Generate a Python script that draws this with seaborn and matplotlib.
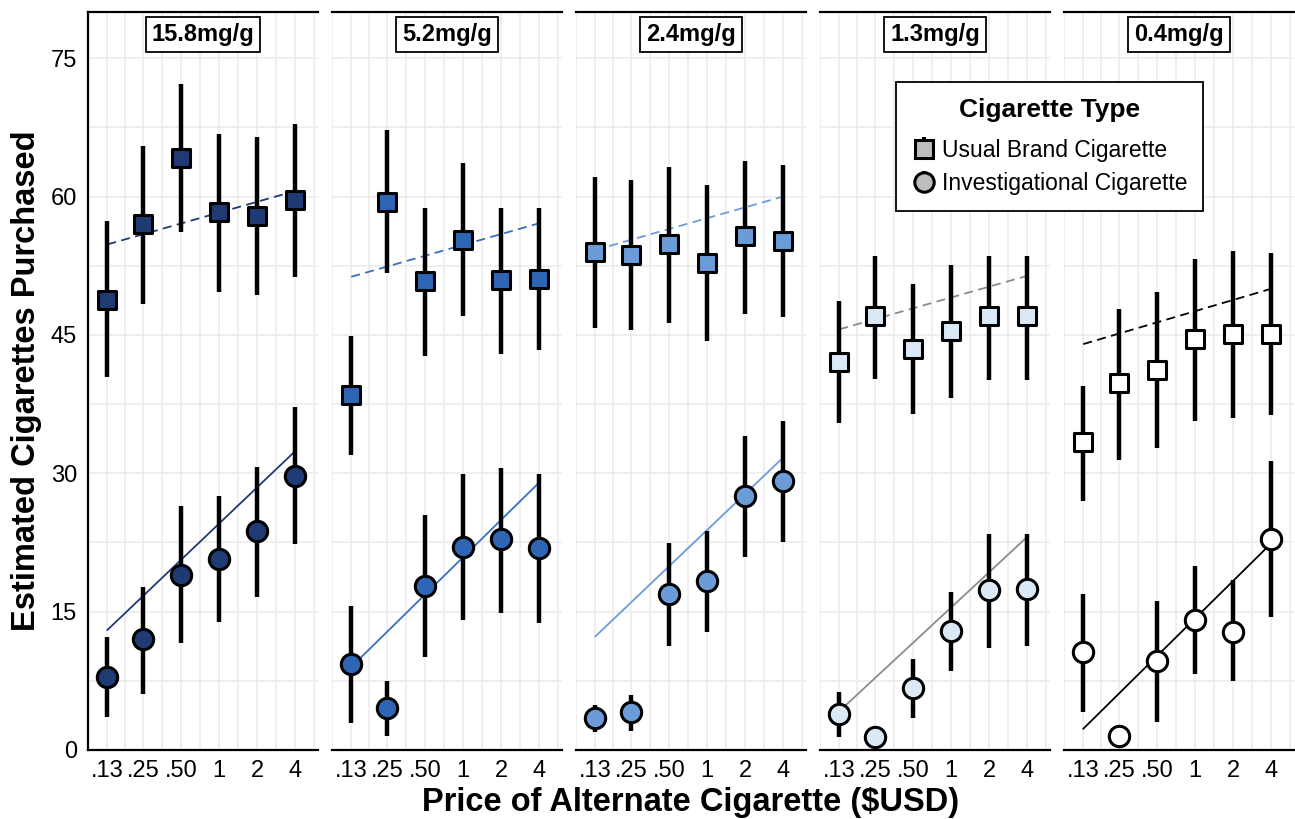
import numpy as np
import pandas as pd
import matplotlib.pyplot as plt
import seaborn as sns
from matplotlib.container import ErrorbarContainer
from matplotlib.lines import Line2D
from matplotlib.collections import LineCollection
from matplotlib.ticker import NullFormatter

# nicotine content panels and alternate cigarette prices
doses = ['15.8mg/g', '5.2mg/g', '2.4mg/g', '1.3mg/g', '0.4mg/g']
prices = [0.13, 0.25, 0.50, 1, 2, 4]
price_labels = ['.13', '.25', '.50', '1', '2', '4']

# usual brand cigarette (squares)
ubc_mean = [
    [48.8, 57.0, 64.2, 58.3, 57.9, 59.6],
    [38.5, 59.4, 50.8, 55.3, 50.9, 51.1],
    [54.0, 53.7, 54.8, 52.8, 55.7, 55.2],
    [42.1, 47.0, 43.5, 45.4, 47.0, 47.0],
    [33.4, 39.8, 41.2, 44.6, 45.1, 45.1],
]
ubc_lo = [
    [40.4, 48.4, 56.2, 49.7, 49.3, 51.3],
    [32.0, 51.7, 42.7, 47.0, 42.9, 43.4],
    [45.7, 45.5, 46.3, 44.3, 47.3, 46.9],
    [35.4, 40.2, 36.4, 38.2, 40.1, 40.1],
    [27.0, 31.4, 32.7, 35.7, 36.0, 36.3],
]
ubc_hi = [
    [57.3, 65.5, 72.2, 66.8, 66.5, 67.9],
    [44.9, 67.2, 58.7, 63.6, 58.8, 58.7],
    [62.1, 61.8, 63.2, 61.2, 63.9, 63.4],
    [48.7, 53.6, 50.5, 52.6, 53.6, 53.6],
    [39.5, 47.8, 49.6, 53.2, 54.1, 53.9],
]

# investigational cigarette (circles)
inv_mean = [
    [7.9, 12.0, 19.0, 20.7, 23.7, 29.7],
    [9.3, 4.5, 17.8, 22.0, 22.9, 21.9],
    [3.5, 4.1, 16.9, 18.3, 27.5, 29.2],
    [3.9, 1.4, 6.7, 12.9, 17.3, 17.5],
    [10.6, 1.5, 9.6, 14.1, 12.8, 22.9],
]
inv_lo = [
    [3.6, 6.1, 11.6, 13.9, 16.6, 22.3],
    [2.9, 1.5, 10.1, 14.1, 14.9, 13.8],
    [2.0, 2.1, 11.3, 12.8, 20.9, 22.6],
    [1.4, 1.4, 3.5, 8.6, 11.1, 11.3],
    [4.1, 1.5, 3.0, 8.2, 7.5, 14.4],
]
inv_hi = [
    [12.3, 17.7, 26.5, 27.5, 30.7, 37.2],
    [15.6, 7.5, 25.5, 29.9, 30.6, 29.9],
    [4.9, 6.0, 22.4, 23.7, 34.0, 35.7],
    [6.3, 1.4, 9.9, 17.1, 23.4, 23.4],
    [16.9, 1.5, 16.2, 19.9, 18.4, 31.3],
]

# fitted trend at the lowest and highest price
ubc_fit = [(54.8, 60.6), (51.3, 57.1), (54.2, 60.0), (45.6, 51.4), (44.0, 50.0)]
inv_fit = [(13.0, 32.4), (9.0, 29.0), (12.3, 31.7), (4.2, 23.1), (2.3, 22.4)]

fills = ['#1f3b73', '#2f65b5', '#6b9bd8', '#dbe9f7', '#ffffff']
line_cols = ['#1f3b73', '#3a6fc0', '#6b9bd8', '#8c8c8c', '#000000']

UBC = 'Usual Brand Cigarette'
INV = 'Investigational Cigarette'

rows = []
for i, d in enumerate(doses):
    for j, p in enumerate(prices):
        rows.append((d, p, UBC, ubc_mean[i][j], ubc_lo[i][j], ubc_hi[i][j]))
        rows.append((d, p, INV, inv_mean[i][j], inv_lo[i][j], inv_hi[i][j]))
df = pd.DataFrame(rows, columns=['dose', 'price', 'type', 'mean', 'lo', 'hi'])

fit_rows = []
for i, d in enumerate(doses):
    fit_rows += [(d, prices[0], UBC, ubc_fit[i][0]), (d, prices[-1], UBC, ubc_fit[i][1]),
                 (d, prices[0], INV, inv_fit[i][0]), (d, prices[-1], INV, inv_fit[i][1])]
fit_df = pd.DataFrame(fit_rows, columns=['dose', 'price', 'type', 'value'])

sns.set_theme(style='white')
plt.rcParams['font.family'] = ['Liberation Sans', 'DejaVu Sans']
plt.rcParams['text.color'] = 'black'
plt.rcParams['axes.labelcolor'] = 'black'

fig = plt.figure(figsize=(12.95, 8.19), dpi=100)
axes = fig.subplots(1, 5, sharey=True)
fig.subplots_adjust(left=88 / 1295, right=1294 / 1295, bottom=1 - 750 / 819,
                    top=1 - 12 / 819, wspace=14 / 230)

minor_x = [prices[0] / np.sqrt(2)] + list(np.sqrt(np.array(prices[:-1]) * np.array(prices[1:]))) \
    + [prices[-1] * np.sqrt(2)]

for i, (ax, d) in enumerate(zip(axes, doses)):
    sub = df[df['dose'] == d]
    fsub = fit_df[fit_df['dose'] == d]

    sns.lineplot(data=fsub, x='price', y='value', style='type',
                 dashes={UBC: (5, 3), INV: ''}, color=line_cols[i], linewidth=1.3,
                 errorbar=None, legend=False, ax=ax, zorder=2)

    ax.vlines(sub['price'], sub['lo'], sub['hi'], color='black', linewidth=3.2, zorder=3)

    sns.scatterplot(data=sub[sub['type'] == UBC], x='price', y='mean', marker='s',
                    s=180, color=fills[i], edgecolor='black', linewidth=2.2,
                    legend=False, ax=ax, zorder=4)
    sns.scatterplot(data=sub[sub['type'] == INV], x='price', y='mean', marker='o',
                    s=215, color=fills[i], edgecolor='black', linewidth=2.2,
                    legend=False, ax=ax, zorder=4)

    ax.set_xscale('log', base=2)
    ax.set_xlim(2 ** -3.45, 2 ** 2.6)
    ax.set_xticks(prices)
    ax.set_xticklabels(price_labels)
    ax.set_xticks(minor_x, minor=True)
    ax.xaxis.set_minor_formatter(NullFormatter())
    ax.set_ylim(0, 80)
    ax.set_yticks([0, 15, 30, 45, 60, 75])
    ax.set_yticks(np.arange(7.5, 80, 15), minor=True)

    ax.grid(True, which='both', color='#ebebeb', linewidth=1.1, zorder=0)
    ax.set_axisbelow(True)
    ax.tick_params(axis='both', which='both', length=0, labelsize=17,
                   colors='black', labelcolor='black')
    ax.tick_params(axis='x', pad=7)
    ax.tick_params(axis='y', pad=8)
    ax.set_xlabel('')
    ax.set_ylabel('')

    for side in ['top', 'bottom']:
        ax.spines[side].set_visible(True)
        ax.spines[side].set_color('black')
        ax.spines[side].set_linewidth(1.6)
    ax.spines['right'].set_visible(False)
    ax.spines['left'].set_visible(i == 0)
    ax.spines['left'].set_color('black')
    ax.spines['left'].set_linewidth(1.6)

    ax.text(0.5, 0.969, d, transform=ax.transAxes, ha='center', va='center',
            fontsize=17, fontweight='bold', color='black', zorder=6,
            bbox=dict(boxstyle='square,pad=0.25', fc='white', ec='black', lw=1.3))

axes[0].set_ylabel('Estimated Cigarettes Purchased', fontsize=23.5, fontweight='bold',
                   color='black', labelpad=6)
fig.text(691 / 1295, 1 - 803 / 819, 'Price of Alternate Cigarette ($USD)',
         ha='center', va='center', fontsize=23.5, fontweight='bold', color='black')


def proxy(marker, ms):
    m = Line2D([], [], linestyle='none', marker=marker, markersize=ms,
               markerfacecolor='#bdbdbd', markeredgecolor='black', markeredgewidth=2.2)
    bar = LineCollection([], colors='black', linewidths=3)
    return ErrorbarContainer((m, (), (bar,)), has_xerr=False, has_yerr=True)


leg = fig.legend([proxy('s', 13), proxy('o', 14)], [UBC, INV],
                 title='Cigarette Type', loc='upper left',
                 bbox_to_anchor=(896 / 1295, 1 - 82 / 819), fontsize=16.5,
                 title_fontproperties={'weight': 'bold', 'size': 19},
                 frameon=True, fancybox=False, edgecolor='black', framealpha=1,
                 handlelength=1.0, handletextpad=0.3, labelspacing=0.45,
                 borderpad=0.7, borderaxespad=0)
leg.get_frame().set_linewidth(1.3)
leg.get_title().set_color('black')
for t in leg.get_texts():
    t.set_color('black')
leg._legend_box.sep = 12

plt.savefig('out.png', dpi=100)
